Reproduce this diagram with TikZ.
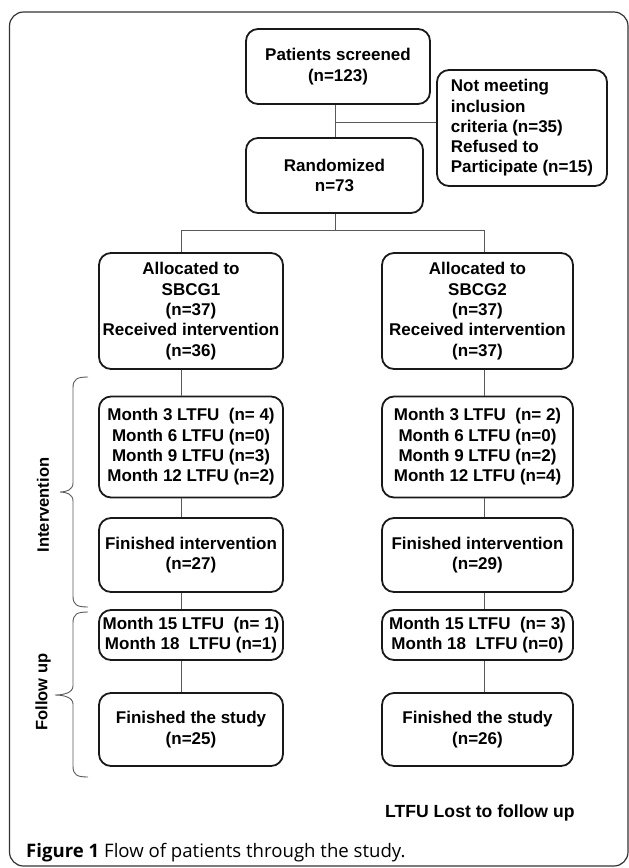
\documentclass[tikz,border=0pt]{standalone}
\usepackage{fontspec}
\setmainfont{Liberation Sans}
\newfontfamily\capfont{Open Sans}
\tikzset{
  box/.style={draw=black!90, line width=1.8pt, rounded corners=12pt, align=center,
    inner sep=1pt, font=\bfseries\fontsize{17}{20.3}\selectfont},
  link/.style={draw=black!65, line width=0.9pt},
  brace/.style={draw=black!65, line width=0.9pt},
  side/.style={rotate=90, inner sep=0pt, font=\bfseries\fontsize{16.5}{18}\selectfont},
}
\begin{document}
\begin{tikzpicture}[x=1pt, y=-1pt]
  \useasboundingbox (0,0) rectangle (629,868);
  \draw[black!80, line width=1.2pt, rounded corners=14pt] (9.5,12) rectangle (628,866);

  % screening
  \node[box, minimum width=184pt, minimum height=75pt] (screened) at (338,66.5) {Patients screened\\(n=123)};
  \node[box, align=left, minimum width=170pt, minimum height=116pt] (excluded) at (522,128)
    {Not meeting\\inclusion\\criteria (n=35)\\Refused to\\Participate (n=15)};
  \node[box, minimum width=177pt, minimum height=75pt] (random) at (334.5,175.5) {Randomized\\n=73};

  % SBCG1
  \node[box, minimum width=184pt, minimum height=116pt] (alloc1) at (191,311)
    {Allocated to\\SBCG1\\(n=37)\\Received intervention\\(n=36)};
  \node[box, minimum width=184pt, minimum height=101pt] (month1) at (191,447)
    {Month 3 LTFU\ \ (n= 4)\\Month 6 LTFU (n=0)\\Month 9 LTFU (n=3)\\Month 12 LTFU (n=2)};
  \node[box, minimum width=184pt, minimum height=74pt] (finint1) at (191,555) {Finished intervention\\(n=27)};
  \node[box, minimum width=184pt, minimum height=50pt] (fu1) at (191,635)
    {Month 15 LTFU\ \ (n= 1)\\Month 18\ \ LTFU (n=1)};
  \node[box, minimum width=184pt, minimum height=73pt] (study1) at (191,729.5) {Finished the study\\(n=25)};

  % SBCG2
  \node[box, minimum width=191pt, minimum height=116pt] (alloc2) at (477.5,311)
    {Allocated to\\SBCG2\\(n=37)\\Received intervention\\(n=37)};
  \node[box, minimum width=191pt, minimum height=101pt] (month2) at (477.5,447)
    {Month 3 LTFU\ \ (n= 2)\\Month 6 LTFU (n=0)\\Month 9 LTFU (n=2)\\Month 12 LTFU (n=4)};
  \node[box, minimum width=191pt, minimum height=74pt] (finint2) at (477.5,555) {Finished intervention\\(n=29)};
  \node[box, minimum width=191pt, minimum height=50pt] (fu2) at (477.5,635)
    {Month 15 LTFU\ \ (n= 3)\\Month 18\ \ LTFU (n=0)};
  \node[box, minimum width=191pt, minimum height=73pt] (study2) at (477.5,729.5) {Finished the study\\(n=26)};

  % connectors
  \coordinate (split) at (335,122);
  \coordinate (fork) at (335,230);
  \coordinate (colL) at (181,230);
  \coordinate (colR) at (484,230);
  \draw[link] (split |- screened.south) -- (split |- random.north);
  \draw[link] (split) -- (split -| excluded.west);
  \draw[link] (fork |- random.south) -- (fork);
  \draw[link] (colL) -- (colR);
  \draw[link] (colL) -- (colL |- alloc1.north);
  \draw[link] (colR) -- (colR |- alloc2.north);
  \foreach \a/\b in {alloc/month, month/finint, finint/fu, fu/study} {
    \draw[link] (colL |- \a1.south) -- (colL |- \b1.north);
    \draw[link] (colR |- \a2.south) -- (colR |- \b2.north);
  }

  % phases
  \draw[brace] (88,377) .. controls (77,377) and (73,379) .. (73,388) -- (73,483)
    .. controls (73,490) and (66,492) .. (60,492) .. controls (66,492) and (73,494) .. (73,501)
    -- (73,596) .. controls (73,605) and (77,607) .. (88,607);
  \draw[brace] (88,612) .. controls (77,612) and (73,614) .. (73,623) -- (73,686)
    .. controls (73,693) and (63,695) .. (55,695) .. controls (63,695) and (73,697) .. (73,704)
    -- (73,766) .. controls (73,775) and (77,777) .. (88,777);
  \node[side] (phase1) at (43,505) {Intervention};
  \node[side] (phase2) at (43,692) {Follow up};

  \node[anchor=west, inner sep=0pt, font=\bfseries\fontsize{17.6}{19}\selectfont] (legend) at (385,813)
    {LTFU Lost to follow up};
  \node[anchor=base west, inner sep=0pt, font=\capfont\fontsize{18.6}{21}\selectfont] (caption) at (26,857)
    {\textbf{Figure 1} Flow of patients through the study.};
\end{tikzpicture}
\end{document}
